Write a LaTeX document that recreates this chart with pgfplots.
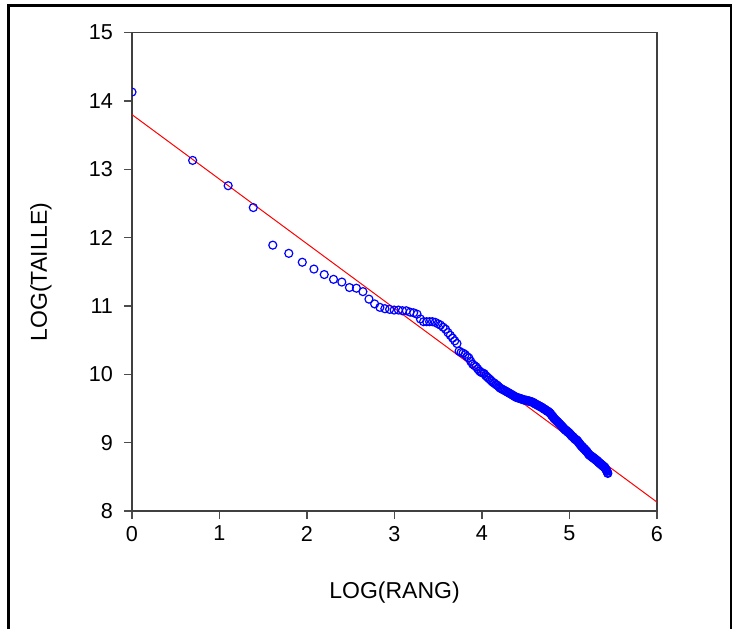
\documentclass[border=0pt]{standalone}
\usepackage{pgfplots}
\pgfplotsset{compat=1.18}
\usepackage{pgfplotstable}
\usepackage{fontspec}
\setmainfont{Liberation Sans}

\pgfplotstableread{
x y
0.000 14.13
0.693 13.13
1.099 12.76
1.386 12.44
1.609 11.89
1.792 11.77
1.946 11.64
2.079 11.54
2.197 11.46
2.303 11.39
2.398 11.35
2.485 11.27
2.565 11.26
2.639 11.21
2.708 11.10
2.773 11.03
2.833 10.98
2.890 10.96
2.944 10.95
2.996 10.94
3.045 10.94
3.091 10.93
3.135 10.93
3.178 10.91
3.219 10.90
3.258 10.88
3.296 10.81
3.332 10.77
3.367 10.77
3.401 10.77
3.434 10.77
3.466 10.76
3.497 10.74
3.526 10.72
3.555 10.69
3.584 10.66
3.611 10.61
3.638 10.57
3.664 10.53
3.689 10.49
3.714 10.45
3.738 10.34
3.761 10.32
3.784 10.31
3.807 10.29
3.829 10.26
3.850 10.24
3.871 10.19
3.892 10.15
3.912 10.13
3.932 10.11
3.951 10.08
3.970 10.05
3.989 10.03
4.007 10.02
4.025 10.01
4.043 9.98
4.060 9.96
4.078 9.94
4.094 9.92
4.111 9.90
4.127 9.88
4.143 9.87
4.159 9.85
4.174 9.84
4.190 9.82
4.205 9.80
4.220 9.79
4.234 9.78
4.248 9.77
4.263 9.76
4.277 9.75
4.290 9.74
4.304 9.73
4.317 9.72
4.331 9.71
4.344 9.70
4.357 9.69
4.369 9.68
4.382 9.67
4.394 9.66
4.407 9.66
4.419 9.65
4.431 9.65
4.443 9.64
4.454 9.64
4.466 9.63
4.477 9.63
4.489 9.62
4.500 9.62
4.511 9.62
4.522 9.61
4.533 9.61
4.543 9.61
4.554 9.60
4.564 9.60
4.575 9.59
4.585 9.59
4.595 9.58
4.605 9.57
4.615 9.56
4.625 9.56
4.635 9.55
4.644 9.54
4.654 9.54
4.663 9.53
4.673 9.52
4.682 9.52
4.691 9.51
4.700 9.50
4.710 9.49
4.718 9.49
4.727 9.48
4.736 9.47
4.745 9.46
4.754 9.46
4.762 9.45
4.771 9.44
4.779 9.43
4.787 9.42
4.796 9.40
4.804 9.39
4.812 9.38
4.820 9.36
4.828 9.35
4.836 9.34
4.844 9.33
4.852 9.32
4.860 9.31
4.868 9.30
4.875 9.29
4.883 9.28
4.890 9.27
4.898 9.26
4.905 9.25
4.913 9.24
4.920 9.23
4.927 9.22
4.934 9.21
4.942 9.20
4.949 9.19
4.956 9.18
4.963 9.18
4.970 9.17
4.977 9.16
4.984 9.15
4.990 9.15
4.997 9.14
5.004 9.13
5.011 9.12
5.017 9.11
5.024 9.10
5.030 9.09
5.037 9.09
5.043 9.08
5.050 9.07
5.056 9.06
5.063 9.05
5.069 9.05
5.075 9.04
5.081 9.04
5.088 9.03
5.094 9.02
5.100 9.01
5.106 9.00
5.112 8.99
5.118 8.98
5.124 8.97
5.130 8.96
5.136 8.95
5.142 8.94
5.147 8.94
5.153 8.93
5.159 8.92
5.165 8.91
5.170 8.91
5.176 8.90
5.182 8.89
5.187 8.88
5.193 8.88
5.198 8.87
5.204 8.86
5.209 8.85
5.215 8.84
5.220 8.83
5.226 8.82
5.231 8.82
5.236 8.81
5.242 8.81
5.247 8.80
5.252 8.80
5.257 8.79
5.263 8.79
5.268 8.78
5.273 8.78
5.278 8.77
5.283 8.77
5.288 8.76
5.293 8.76
5.298 8.75
5.303 8.75
5.308 8.74
5.313 8.74
5.318 8.73
5.323 8.73
5.328 8.72
5.333 8.71
5.338 8.71
5.342 8.70
5.347 8.70
5.352 8.69
5.357 8.69
5.361 8.68
5.366 8.68
5.371 8.67
5.375 8.67
5.380 8.66
5.384 8.66
5.389 8.65
5.394 8.65
5.398 8.64
5.403 8.64
5.407 8.63
5.412 8.62
5.416 8.61
5.421 8.60
5.425 8.59
5.429 8.58
5.434 8.56
5.438 8.55
}\pointdata

\pgfplotstableread{
x y
0 13.80
6 8.13
}\fitdata

\begin{document}
\begin{tikzpicture}
\useasboundingbox (0,0) rectangle (370pt,314pt);
\draw[line width=1.1pt, black] (4.25pt,-2pt) -- (4.25pt,311.25pt) -- (365.3pt,311.25pt) -- (365.3pt,-2pt);
\begin{axis}[
  at={(66pt,58.5pt)}, anchor=south west,
  scale only axis, width=262.5pt, height=239.2pt,
  xmin=0, xmax=6, ymin=8, ymax=15,
  xtick={0,1,2,3,4,5,6}, ytick={8,9,10,11,12,13,14,15},
  xtick pos=bottom, ytick pos=left,
  tick align=outside, major tick length=4pt,
  axis line style={draw=black!75, line width=0.75pt},
  every tick/.style={draw=black!70, line width=0.6pt},
  /pgf/number format/assume math mode=true,
  tick label style={font=\fontsize{10.8}{12}\selectfont},
  yticklabel style={xshift=-2pt},
  xlabel={LOG(RANG)}, ylabel={LOG(TAILLE)},
  label style={font=\fontsize{11.5}{13}\selectfont},
  xlabel style={at={(axis description cs:0.5,0)}, anchor=center, yshift=-41pt},
  ylabel style={at={(axis description cs:-0.1737,0.5)}, anchor=center},
  clip marker paths=true,
]
\addplot[red, line width=0.5pt] table {\fitdata};
\addplot[only marks, mark=o, mark size=2pt, blue, mark options={line width=0.6pt}] table {\pointdata};
\end{axis}
\end{tikzpicture}
\end{document}
